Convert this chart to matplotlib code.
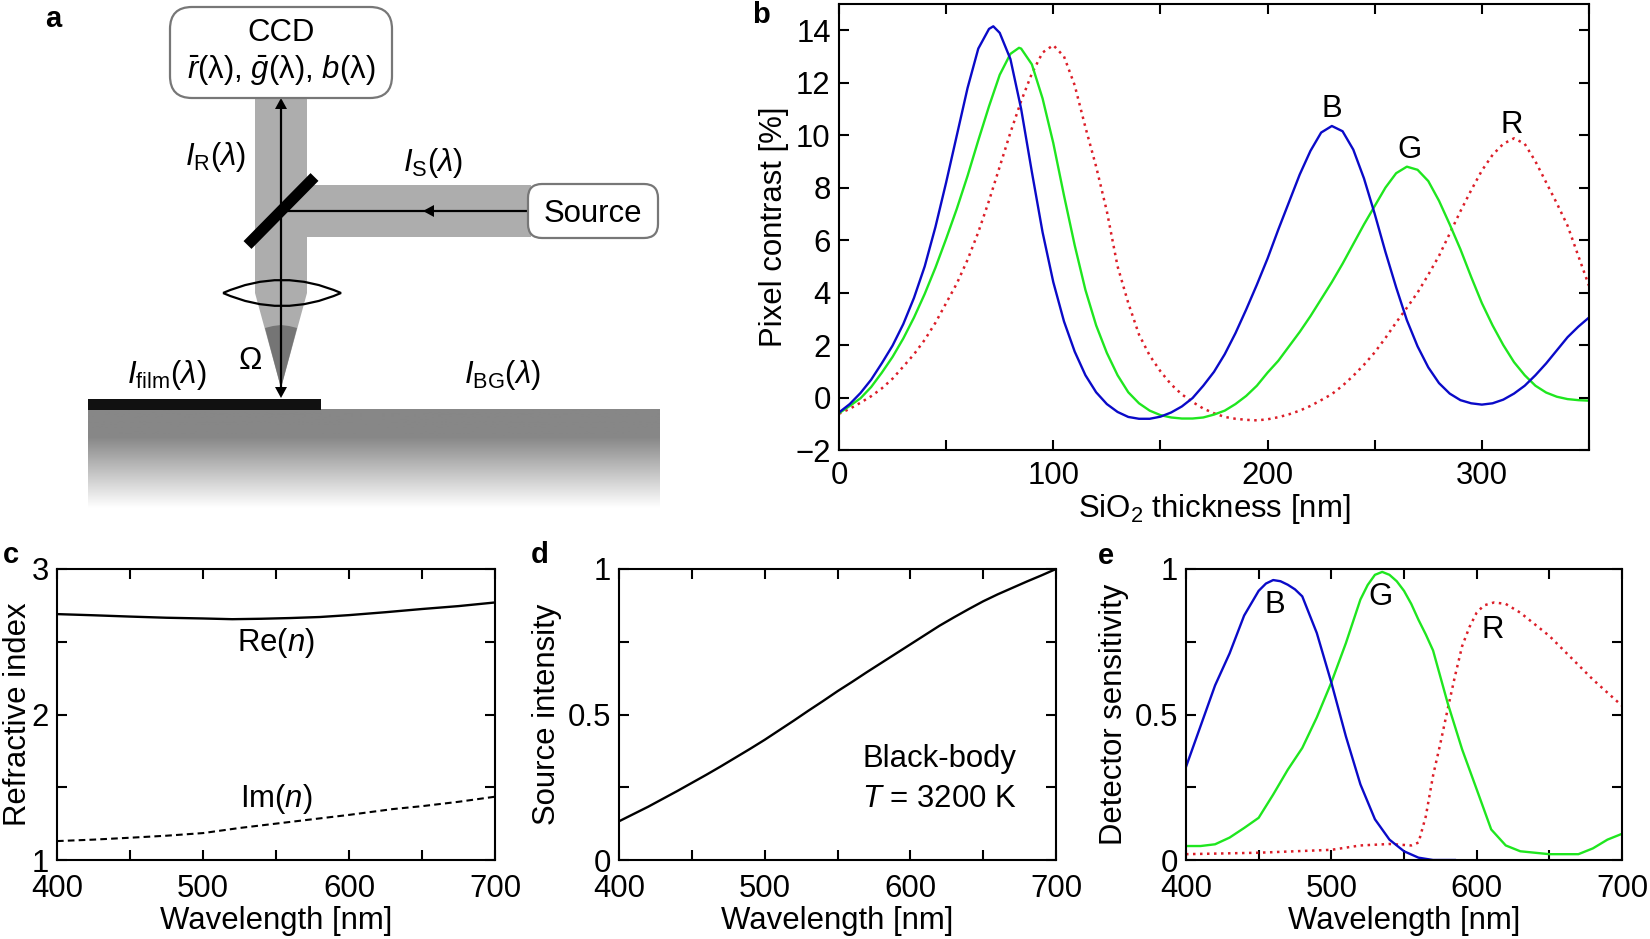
import numpy as np
import matplotlib
matplotlib.use("Agg")
import matplotlib.pyplot as plt
from matplotlib.patches import FancyBboxPatch, Rectangle, Polygon, PathPatch
from matplotlib.path import Path
from matplotlib.ticker import MultipleLocator, FixedLocator, FixedFormatter

plt.rcParams['font.family'] = ['Liberation Sans', 'DejaVu Sans']
plt.rcParams['mathtext.fontset'] = 'custom'
plt.rcParams['mathtext.rm'] = 'Liberation Sans'
plt.rcParams['mathtext.it'] = 'Liberation Sans:italic'
plt.rcParams['mathtext.bf'] = 'Liberation Sans:bold'
plt.rcParams['mathtext.default'] = 'regular'

FS = 22.4
W, H = 1650, 939
BLUE, GREEN, RED = '#0a0ac8', '#1fe61f', '#dc1e28'
DOTS = (0, (1, 1.8))

# panel b
b_x_blue = [0,5,10,15,20,25,30,35,40,45,50,55,60,65,70,72,75,80,85,90,95,100,105,110,115,120,125,130,135,140,145,150,155,160,165,170,175,180,185,190,195,200,205,210,215,220,225,230,235,240,245,250,255,260,265,270,275,280,285,290,295,300,305,310,315,320,325,330,335,340,345,350]
b_blue = [-0.57,-0.25,0.17,0.68,1.31,1.98,2.8,3.8,5.0,6.5,8.2,10.0,11.8,13.3,14.05,14.15,13.9,12.9,11.0,8.6,6.3,4.4,2.9,1.75,0.85,0.2,-0.25,-0.55,-0.74,-0.81,-0.81,-0.73,-0.57,-0.34,-0.02,0.45,0.98,1.65,2.45,3.35,4.3,5.3,6.4,7.45,8.5,9.4,10.1,10.35,10.15,9.45,8.35,7.0,5.55,4.2,2.95,1.95,1.15,0.55,0.15,-0.1,-0.22,-0.27,-0.22,-0.08,0.15,0.45,0.85,1.3,1.8,2.3,2.7,3.05]
b_x_green = [0,5,10,15,20,25,30,35,40,45,50,55,60,65,70,75,80,84,85,90,95,100,105,110,115,120,125,130,135,140,145,150,155,160,165,170,175,180,185,190,195,200,205,210,215,220,225,230,235,240,245,250,255,260,265,270,275,280,285,290,295,300,305,310,315,320,325,330,335,340,345,350]
b_green = [-0.6,-0.32,-0.03,0.4,0.95,1.55,2.25,3.05,3.95,4.95,6.05,7.2,8.45,9.8,11.1,12.3,13.1,13.33,13.3,12.7,11.4,9.7,7.7,5.8,4.1,2.75,1.7,0.85,0.2,-0.22,-0.5,-0.67,-0.76,-0.8,-0.8,-0.76,-0.65,-0.5,-0.25,0.06,0.45,0.95,1.4,1.95,2.5,3.1,3.75,4.4,5.1,5.85,6.6,7.3,8.0,8.55,8.8,8.68,8.25,7.5,6.6,5.65,4.6,3.6,2.75,2.0,1.35,0.85,0.45,0.19,0.03,-0.06,-0.1,-0.12]
b_x_red = [0,5,10,15,20,25,30,35,40,45,50,55,60,65,70,75,80,85,90,95,100,105,110,115,120,125,130,135,140,145,150,155,160,165,170,175,180,185,190,195,200,205,210,215,220,225,230,235,240,245,250,255,260,265,270,275,280,285,290,295,300,305,310,315,320,325,330,335,340,345,350]
b_red = [-0.62,-0.43,-0.2,0.05,0.35,0.72,1.18,1.65,2.2,2.85,3.6,4.35,5.25,6.3,7.5,8.8,10.1,11.3,12.35,13.15,13.43,13.0,11.9,10.3,8.8,7.1,5.0,3.6,2.4,1.6,1.0,0.5,0.12,-0.17,-0.42,-0.6,-0.74,-0.81,-0.85,-0.87,-0.83,-0.75,-0.64,-0.5,-0.32,-0.1,0.13,0.45,0.83,1.25,1.72,2.27,2.86,3.42,4.0,4.68,5.4,6.25,7.1,7.9,8.65,9.25,9.67,9.88,9.67,9.0,8.2,7.4,6.55,5.4,4.26]

# panel c
c_x_re = [400,425,450,475,500,520,540,560,580,600,625,650,675,700]
c_re = [2.69,2.682,2.673,2.665,2.66,2.655,2.658,2.663,2.67,2.683,2.703,2.725,2.745,2.77]
c_x_im = [400,425,450,475,500,525,550,575,600,630,650,675,700]
c_im = [1.13,1.14,1.153,1.167,1.185,1.22,1.25,1.28,1.31,1.35,1.37,1.40,1.435]

# panel d
d_x = [400,410,420,430,440,450,460,470,480,490,500,510,520,530,540,550,560,570,580,590,600,610,620,630,640,650,660,670,680,690,700]
d_y = [0.133,0.158,0.183,0.21,0.237,0.265,0.293,0.322,0.352,0.382,0.413,0.446,0.479,0.513,0.546,0.58,0.612,0.645,0.677,0.709,0.741,0.773,0.805,0.834,0.862,0.889,0.913,0.935,0.957,0.978,1.0]

# panel e
e_x_blue = [400,410,420,430,440,450,455,460,465,470,475,480,490,500,510,520,530,540,550,560,570,585]
e_blue = [0.32,0.46,0.60,0.71,0.84,0.925,0.95,0.962,0.958,0.946,0.93,0.906,0.78,0.61,0.425,0.26,0.14,0.07,0.03,0.008,0.0,0.0]
e_x_green = [400,410,420,430,440,450,460,470,480,490,500,510,520,525,530,535,540,545,550,555,560,565,570,575,580,590,600,610,620,630,650,670,680,690,700]
e_green = [0.048,0.048,0.054,0.077,0.11,0.145,0.225,0.31,0.385,0.49,0.61,0.745,0.895,0.945,0.98,0.99,0.98,0.958,0.925,0.88,0.825,0.775,0.72,0.63,0.54,0.38,0.243,0.105,0.05,0.03,0.02,0.02,0.04,0.07,0.09]
e_x_red = [400,450,500,520,540,555,560,565,570,575,580,585,590,595,600,605,612,620,630,640,650,660,670,680,690,700]
e_red = [0.02,0.025,0.035,0.05,0.055,0.05,0.06,0.15,0.29,0.40,0.517,0.63,0.735,0.80,0.85,0.875,0.885,0.88,0.85,0.81,0.77,0.72,0.67,0.62,0.575,0.53]

fig = plt.figure(figsize=(16.5, 9.39), dpi=100)

def axpx(L, R, T, B, z=2):
    return fig.add_axes([L/W, 1-B/H, (R-L)/W, (B-T)/H], zorder=z)

def style(ax, xmaj, xmin, ymaj, ymin, xpad=10):
    for s in ax.spines.values():
        s.set_linewidth(1.5)
    ax.xaxis.set_major_locator(MultipleLocator(xmaj))
    ax.xaxis.set_minor_locator(MultipleLocator(xmin))
    ax.yaxis.set_major_locator(MultipleLocator(ymaj))
    ax.yaxis.set_minor_locator(MultipleLocator(ymin))
    ax.tick_params(which='both', direction='in', top=True, right=True, width=1.5, length=7, labelsize=FS)
    ax.tick_params(axis='x', pad=xpad)
    ax.tick_params(axis='y', pad=6)

def labels(ax, xl, yl, L, R, T, B, xl_py, yl_px):
    ax.set_xlabel(xl, fontsize=FS, va='center')
    ax.set_ylabel(yl, fontsize=FS, va='center')
    ax.xaxis.set_label_coords(0.5, -(xl_py-B)/(B-T))
    ax.yaxis.set_label_coords((yl_px-L)/(R-L), 0.5)

# diagram
d = fig.add_axes([0, 0, 1, 1], zorder=1)
beam = '#adadad'
d.add_patch(Polygon([(255,98),(307,98),(307,293),(281,388),(255,293)], fc=beam, ec='none'))
d.add_patch(Rectangle((307,185), 224, 52, fc=beam, ec='none'))
d.add_patch(Polygon([(265,328),(273,326),(281,325),(289,326),(297,328),(281,388)], fc='#757575', ec='none'))
grad = np.r_[np.full(28, 0.53), np.linspace(0.53, 1, 72)][:, None]
d.imshow(grad, extent=(88, 660, 508, 409), cmap='gray', vmin=0, vmax=1, aspect='auto', zorder=1)
d.set_xlim(0, W); d.set_ylim(H, 0); d.axis('off')
d.add_patch(Rectangle((88,399), 233, 11, fc='#111111', ec='none', zorder=2))
d.plot([247.5,314.5],[245,177], color='black', lw=8, solid_capstyle='butt', zorder=3)
lens = Path([(223,293),(282,267),(341,293),(282,319),(223,293)],[Path.MOVETO,Path.CURVE3,Path.CURVE3,Path.CURVE3,Path.CURVE3])
d.add_patch(PathPatch(lens, fc='none', ec='black', lw=1.6, zorder=3))
d.plot([281,281],[104,392], color='black', lw=1.6, zorder=3)
d.plot([281,527],[211,211], color='black', lw=1.6, zorder=3)
d.add_patch(Polygon([(281,98),(275,109),(287,109)], fc='black', ec='none', zorder=4))
d.add_patch(Polygon([(281,398),(275,387),(287,387)], fc='black', ec='none', zorder=4))
d.add_patch(Polygon([(423,211),(434,205),(434,217)], fc='black', ec='none', zorder=4))
d.add_patch(FancyBboxPatch((192,29),178,47, boxstyle='round,pad=22,rounding_size=22', fc='white', ec='#777777', lw=1.6, zorder=4))
d.add_patch(FancyBboxPatch((542,198),102,26, boxstyle='round,pad=14,rounding_size=14', fc='white', ec='#777777', lw=1.6, zorder=4))
kw = dict(ha='center', va='center', fontsize=FS, zorder=5)
d.text(281, 33, 'CCD', **kw)
d.text(281, 70, r'$\mathit{\bar{r}}$(λ), $\mathit{\bar{g}}$(λ), $\mathit{b}$(λ)', **kw)
d.text(593, 214, 'Source', **kw)
d.text(216, 157, r'$\mathit{I}_{\mathrm{R}}(\mathit{λ})$', **kw)
d.text(433, 163, r'$\mathit{I}_{\mathrm{S}}(\mathit{λ})$', **kw)
d.text(250, 361, 'Ω', **kw)
d.text(167, 375, r'$\mathit{I}_{\mathrm{film}}(\mathit{λ})$', **kw)
d.text(503, 375, r'$\mathit{I}_{\mathrm{BG}}(\mathit{λ})$', **kw)
lab = dict(ha='center', va='center', fontsize=21, fontweight='bold', zorder=5)
d.text(53, 19, 'a', **lab)
d.text(761, 15, 'b', **lab)
d.text(11, 555, 'c', **lab)
d.text(540, 555, 'd', **lab)
d.text(1106, 556, 'e', **lab)

# b
ax = axpx(839, 1589, 4, 450)
ax.plot(b_x_red, b_red, color=RED, lw=1.8, ls=DOTS)
ax.plot(b_x_green, b_green, color=GREEN, lw=1.7)
ax.plot(b_x_blue, b_blue, color=BLUE, lw=1.7)
ax.set_xlim(0, 350); ax.set_ylim(-2, 15)
style(ax, 100, 50, 2, 2, xpad=8)
labels(ax, r'SiO$_2$ thickness [nm]', 'Pixel contrast [%]', 839, 1589, 4, 450, 509, 774)
ax.text(230, 11.0, 'B', ha='center', va='center', fontsize=FS)
ax.text(266, 9.45, 'G', ha='center', va='center', fontsize=FS)
ax.text(314, 10.4, 'R', ha='center', va='center', fontsize=FS)

# c
ax = axpx(57, 495, 569, 860)
ax.plot(c_x_re, c_re, color='black', lw=1.7)
ax.plot(c_x_im, c_im, color='black', lw=1.5, ls=(0, (3.2, 2)))
ax.set_xlim(400, 700); ax.set_ylim(1, 3)
style(ax, 100, 50, 1, 0.5)
labels(ax, 'Wavelength [nm]', 'Refractive index', 57, 495, 569, 860, 921, 18)
ax.text(550, 2.49, r'Re($\mathit{n}$)', ha='center', va='center', fontsize=FS)
ax.text(550, 1.42, r'Im($\mathit{n}$)', ha='center', va='center', fontsize=FS)

# d
ax = axpx(619, 1056, 569, 860)
ax.plot(d_x, d_y, color='black', lw=1.7)
ax.set_xlim(400, 700); ax.set_ylim(0, 1)
style(ax, 100, 50, 0.5, 0.25)
ax.yaxis.set_major_formatter(FixedFormatter(['0', '0.5', '1']))
ax.yaxis.set_major_locator(FixedLocator([0, 0.5, 1]))
labels(ax, 'Wavelength [nm]', 'Source intensity', 619, 1056, 569, 860, 921, 547)
ax.text(620, 0.348, 'Black-body', ha='center', va='center', fontsize=FS)
ax.text(620, 0.211, r'$\mathit{T}$ = 3200 K', ha='center', va='center', fontsize=FS)

# e
ax = axpx(1186, 1622, 569, 860)
ax.plot(e_x_red, e_red, color=RED, lw=1.8, ls=DOTS)
ax.plot(e_x_green, e_green, color=GREEN, lw=1.7)
ax.plot(e_x_blue, e_blue, color=BLUE, lw=1.7)
ax.set_xlim(400, 700); ax.set_ylim(0, 1)
style(ax, 100, 50, 0.5, 0.25)
ax.yaxis.set_major_formatter(FixedFormatter(['0', '0.5', '1']))
ax.yaxis.set_major_locator(FixedLocator([0, 0.5, 1]))
labels(ax, 'Wavelength [nm]', 'Detector sensitivity', 1186, 1622, 569, 860, 921, 1114)
ax.text(461, 0.875, 'B', ha='center', va='center', fontsize=FS)
ax.text(534, 0.905, 'G', ha='center', va='center', fontsize=FS)
ax.text(611, 0.79, 'R', ha='center', va='center', fontsize=FS)

fig.savefig('out.png', dpi=100)
